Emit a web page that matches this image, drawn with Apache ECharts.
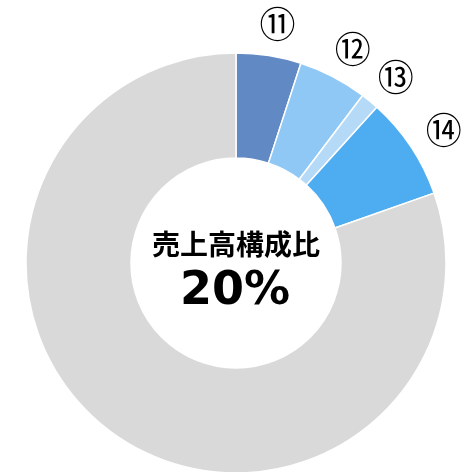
<!DOCTYPE html>
<html>
<head>
<meta charset="utf-8">
<script src="https://cdn.jsdelivr.net/npm/echarts@6/dist/echarts.min.js"></script>
<style>
  html, body { margin: 0; padding: 0; background: #fff; }
  #chart { width: 462px; height: 472px; }
</style>
</head>
<body>
<div id="chart"></div>
<script>
// 売上高構成比（％）
var names = ['⑪', '⑫', '⑬', '⑭', 'その他'];
var values = [5.0, 5.3, 1.4, 7.9, 80.4];
var colors = ['#6189c4', '#8fc8f5', '#b4daf8', '#4eadf1', '#d9d9d9'];
var centerTitle = '売上高構成比';
var centerValue = '20%';

var myChart = echarts.init(document.getElementById('chart'));

// 扇形データ
var pieData = names.map(function (n, i) {
  return { name: n, value: values[i], itemStyle: { color: colors[i] } };
});

// ラベル用（透明）
var labelData = names.map(function (n, i) {
  return {
    name: n,
    value: values[i],
    label: { show: i < names.length - 1 }
  };
});

var option = {
  animation: false,
  series: [
    {
      type: 'pie',
      center: [236, 263],
      radius: [105, 210],
      startAngle: 90,
      clockwise: true,
      silent: true,
      label: { show: false },
      labelLine: { show: false },
      itemStyle: { borderColor: '#fff', borderWidth: 1.5 },
      data: pieData
    },
    {
      type: 'pie',
      center: [236, 263],
      radius: [232, 254],
      startAngle: 90,
      clockwise: true,
      silent: true,
      itemStyle: { color: 'rgba(0,0,0,0)' },
      label: {
        position: 'inside',
        formatter: '{b}',
        color: '#000',
        fontSize: 36,
        fontFamily: '"Noto Sans CJK JP"',
        offset: [3, 4]
      },
      labelLine: { show: false },
      data: labelData
    }
  ],
  graphic: [
    {
      type: 'text',
      x: 236,
      y: 244,
      style: {
        text: centerTitle,
        fill: '#000',
        font: 'bold 28px "Noto Sans CJK JP"',
        align: 'center',
        verticalAlign: 'middle'
      }
    },
    {
      type: 'text',
      x: 235,
      y: 292,
      style: {
        text: centerValue,
        fill: '#000',
        font: 'bold 46px "DejaVu Sans"',
        align: 'center',
        verticalAlign: 'middle'
      }
    }
  ]
};
myChart.setOption(option);
</script>
</body>
</html>
